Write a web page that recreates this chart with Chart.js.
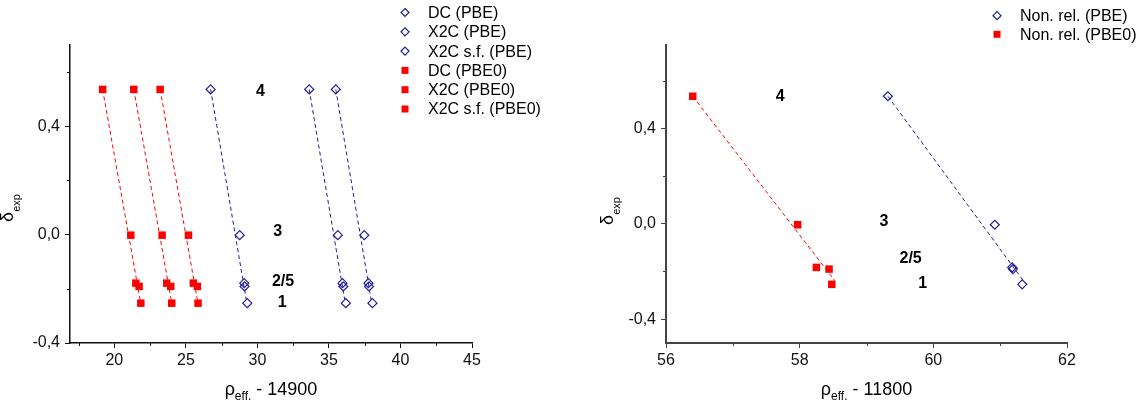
<!DOCTYPE html>
<html>
<head>
<meta charset="utf-8">
<script src="https://cdn.jsdelivr.net/npm/chart.js@4"></script>
<style>
  body { margin: 0; background: #fff; }
  .panel { position: absolute; top: 0; width: 569px; height: 404px; }
</style>
</head>
<body>
<div class="panel" style="left:0"><canvas id="left"></canvas></div>
<div class="panel" style="left:569px"><canvas id="right"></canvas></div>
<script>
  // point order in every series: levels 4, 3, 2, 5, 1
  const levelNames = ['4', '3', '2/5', '1'];

  // left panel: rho_eff - 14900
  const deltaLeft = [0.536, -0.002, -0.179, -0.191, -0.253];
  const dcPBE     = [26.73, 28.76, 29.08, 29.10, 29.29];
  const x2cPBE    = [33.62, 35.62, 35.95, 36.00, 36.18];
  const x2csfPBE  = [35.48, 37.47, 37.76, 37.80, 38.04];
  const dcPBE0    = [19.18, 21.15, 21.50, 21.73, 21.85];
  const x2cPBE0   = [21.36, 23.34, 23.66, 23.94, 24.01];
  const x2csfPBE0 = [23.20, 25.18, 25.52, 25.80, 25.85];

  // dashed fit lines, x at the top and bottom ends
  const fitLeftY      = [0.536, -0.24];
  const fitDcPBE      = [26.73, 29.22];
  const fitX2cPBE     = [33.62, 36.10];
  const fitX2csfPBE   = [35.48, 37.95];
  const fitDcPBE0     = [19.18, 21.80];
  const fitX2cPBE0    = [21.36, 23.97];
  const fitX2csfPBE0  = [23.20, 25.80];

  // level labels, in data coordinates
  const notesLeftX = [30.22, 31.42, 31.79, 31.74];
  const notesLeftY = [0.528, 0.012, -0.175, -0.252];

  // right panel: rho_eff - 11800
  const deltaRight = [0.535, -0.004, -0.183, -0.190, -0.254];
  const nonRelPBE  = [59.32, 60.92, 61.18, 61.19, 61.33];
  const nonRelPBE0 = [56.40, 57.97, 58.25, 58.44, 58.48];
  const fitRightY     = [0.535, -0.24];
  const fitNonRelPBE  = [59.32, 61.35];
  const fitNonRelPBE0 = [56.40, 58.53];
  const notesRightX = [57.71, 59.26, 59.66, 59.84];
  const notesRightY = [0.535, 0.008, -0.146, -0.251];

  // ticks
  const xTicksLeft  = [20, 25, 30, 35, 40, 45];
  const xMinorLeft  = [17.5, 22.5, 27.5, 32.5, 37.5, 42.5];
  const xTicksRight = [56, 58, 60, 62];
  const xMinorRight = [57, 59, 61];
  const yTicks      = [-0.4, 0, 0.4];
  const yTickLabels = ['-0,4', '0,0', '0,4'];
  const yMinor      = [-0.2, 0.2, 0.6];

  const BLUE = '#1e1e96';
  const RED = '#ff0000';
  const FONT = '"Liberation Sans", Arial, sans-serif';

  const pts = (xs, ys) => xs.map((x, i) => ({ x: x, y: ys[i] }));

  function pbeSet(label, xs, ys) {
    return { label: label, data: pts(xs, ys), pointStyle: 'rectRot', pointRadius: 4.5,
      borderColor: BLUE, backgroundColor: 'rgba(0,0,0,0)', borderWidth: 1.2, showLine: false, order: 1 };
  }
  function pbe0Set(label, xs, ys) {
    return { label: label, data: pts(xs, ys), pointStyle: 'rect', pointRadius: 5.3,
      borderColor: RED, backgroundColor: RED, borderWidth: 0, showLine: false, order: 1 };
  }
  function fitSet(xs, ys, color) {
    return { data: pts(xs, ys), showLine: true, pointRadius: 0, borderColor: color,
      borderWidth: 1, borderDash: [4, 3], order: 0 };
  }

  // minor ticks, level labels, legend and axis titles
  const extras = {
    id: 'extras',
    afterDraw(chart, args, o) {
      const { ctx, chartArea: a, scales: { x, y } } = chart;
      ctx.save();
      ctx.strokeStyle = o.axisColor;
      ctx.lineWidth = 1;
      ctx.beginPath();
      o.xMinor.forEach(v => {
        const px = Math.round(x.getPixelForValue(v)) + 0.5;
        ctx.moveTo(px, a.bottom); ctx.lineTo(px, a.bottom + 3);
      });
      o.yMinor.forEach(v => {
        const py = Math.round(y.getPixelForValue(v)) + 0.5;
        ctx.moveTo(a.left, py); ctx.lineTo(a.left - 3, py);
      });
      ctx.stroke();

      // level labels
      ctx.fillStyle = '#000';
      ctx.font = 'bold 16px ' + FONT;
      ctx.textAlign = 'center';
      ctx.textBaseline = 'middle';
      levelNames.forEach((t, i) => {
        ctx.fillText(t, x.getPixelForValue(o.notesX[i]), y.getPixelForValue(o.notesY[i]));
      });

      // legend
      ctx.font = '16px ' + FONT;
      ctx.textAlign = 'left';
      let row = 0;
      chart.data.datasets.forEach(ds => {
        if (!ds.label) return;
        const mx = o.legend.x, my = o.legend.y + row * o.legend.step;
        if (ds.pointStyle === 'rectRot') {
          ctx.strokeStyle = ds.borderColor;
          ctx.lineWidth = 1.2;
          ctx.beginPath();
          ctx.moveTo(mx, my - 4); ctx.lineTo(mx + 4, my); ctx.lineTo(mx, my + 4); ctx.lineTo(mx - 4, my);
          ctx.closePath();
          ctx.stroke();
        } else {
          ctx.fillStyle = ds.backgroundColor;
          ctx.fillRect(mx - 3.5, my - 3.5, 7, 7);
        }
        ctx.fillStyle = '#000';
        ctx.fillText(ds.label, o.legend.x + 23, my + 1);
        row++;
      });

      // x title: rho_eff. - N
      const cx = (a.left + a.right) / 2, by = 395;
      const parts = [['\u03c1', 18, 0], ['eff.', 12, 5], [' - ' + o.offset, 18, 0]];
      let w = 0;
      parts.forEach(p => { ctx.font = p[1] + 'px ' + FONT; w += ctx.measureText(p[0]).width; });
      let px = cx - w / 2;
      ctx.textBaseline = 'alphabetic';
      parts.forEach(p => {
        ctx.font = p[1] + 'px ' + FONT;
        ctx.fillText(p[0], px, by + p[2]);
        px += ctx.measureText(p[0]).width;
      });

      // y title: delta_exp, rotated
      ctx.translate(o.yTitle.x, o.yTitle.y);
      ctx.rotate(-Math.PI / 2);
      ctx.font = '18px ' + FONT;
      const dw = ctx.measureText('\u03b4').width;
      ctx.font = '11px ' + FONT;
      const ew = ctx.measureText('exp').width;
      let tx = -(dw + ew) / 2;
      ctx.font = '18px ' + FONT;
      ctx.fillText('\u03b4', tx, 0);
      ctx.font = '11px ' + FONT;
      ctx.fillText('exp', tx + dw, 7);
      ctx.restore();
    }
  };

  function axes(xMin, xMax, xTicks, yMin, yMax, yWidth, color, lineW) {
    const grid = { drawOnChartArea: false, drawTicks: true, tickLength: 5, tickColor: color, tickWidth: 1 };
    const border = { display: true, color: color, width: lineW };
    const font = { family: FONT, size: 16 };
    return {
      x: {
        type: 'linear', min: xMin, max: xMax, grid: grid, border: border,
        afterBuildTicks: s => { s.ticks = xTicks.map(v => ({ value: v })); },
        afterFit: s => { s.height = 61; },
        ticks: { color: '#111', font: font, padding: 3, maxRotation: 0, callback: v => String(v) }
      },
      y: {
        type: 'linear', min: yMin, max: yMax, grid: grid, border: border,
        afterBuildTicks: s => { s.ticks = yTicks.map(v => ({ value: v })); },
        afterFit: s => { s.width = yWidth; },
        ticks: { color: '#111', font: font, padding: 5, callback: (v, i) => yTickLabels[i] }
      }
    };
  }

  new Chart(document.getElementById('left'), {
    type: 'scatter',
    data: {
      datasets: [
        pbeSet('DC (PBE)', dcPBE, deltaLeft),
        pbeSet('X2C (PBE)', x2cPBE, deltaLeft),
        pbeSet('X2C s.f. (PBE)', x2csfPBE, deltaLeft),
        pbe0Set('DC (PBE0)', dcPBE0, deltaLeft),
        pbe0Set('X2C (PBE0)', x2cPBE0, deltaLeft),
        pbe0Set('X2C s.f. (PBE0)', x2csfPBE0, deltaLeft),
        fitSet(fitDcPBE, fitLeftY, BLUE),
        fitSet(fitX2cPBE, fitLeftY, BLUE),
        fitSet(fitX2csfPBE, fitLeftY, BLUE),
        fitSet(fitDcPBE0, fitLeftY, RED),
        fitSet(fitX2cPBE0, fitLeftY, RED),
        fitSet(fitX2csfPBE0, fitLeftY, RED)
      ]
    },
    options: {
      responsive: true, maintainAspectRatio: false, animation: false,
      layout: { padding: { left: 0, top: 45, right: 97, bottom: 0 } },
      scales: axes(16.9, 45, xTicksLeft, -0.4, 0.7, 70, '#111', 1.5),
      plugins: {
        legend: { display: false }, tooltip: { enabled: false },
        extras: { axisColor: '#111', xMinor: xMinorLeft, yMinor: yMinor,
          notesX: notesLeftX, notesY: notesLeftY, offset: '14900',
          legend: { x: 405, y: 12.5, step: 19.3 }, yTitle: { x: 13, y: 208 } }
      }
    },
    plugins: [extras]
  });

  new Chart(document.getElementById('right'), {
    type: 'scatter',
    data: {
      datasets: [
        pbeSet('Non. rel. (PBE)', nonRelPBE, deltaRight),
        pbe0Set('Non. rel. (PBE0)', nonRelPBE0, deltaRight),
        fitSet(fitNonRelPBE, fitRightY, BLUE),
        fitSet(fitNonRelPBE0, fitRightY, RED)
      ]
    },
    options: {
      responsive: true, maintainAspectRatio: false, animation: false,
      layout: { padding: { left: 0, top: 45, right: 71, bottom: 0 } },
      scales: axes(56, 62, xTicksRight, -0.5, 0.75, 97, '#444', 2),
      plugins: {
        legend: { display: false }, tooltip: { enabled: false },
        extras: { axisColor: '#444', xMinor: xMinorRight, yMinor: yMinor,
          notesX: notesRightX, notesY: notesRightY, offset: '11800',
          legend: { x: 428, y: 15.7, step: 18.6 }, yTitle: { x: 44, y: 211 } }
      }
    },
    plugins: [extras]
  });
</script>
</body>
</html>
